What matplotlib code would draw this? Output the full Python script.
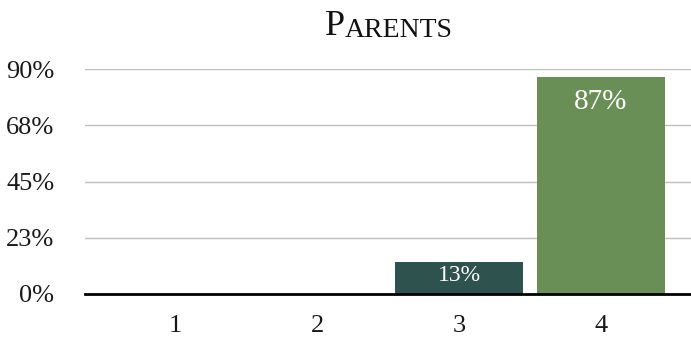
import matplotlib.pyplot as plt

categories = ["1", "2", "3", "4"]
values = [0, 0, 13, 87]
bar_colors = ["#2E524E", "#2E524E", "#2E524E", "#6A8F56"]
y_ticks = [0, 22.5, 45, 67.5, 90]
y_tick_labels = ["0%", "23%", "45%", "68%", "90%"]

plt.rcParams['font.family'] = ['Liberation Serif', 'DejaVu Serif']

fig = plt.figure(figsize=(6.91, 3.41), dpi=100)
ax = fig.add_axes([85 / 691, 47 / 341, 606 / 691, 225 / 341])

x = list(range(1, len(categories) + 1))
bars = ax.bar(x, values, width=0.9, color=bar_colors, zorder=3)

# value labels inside the non-zero bars
for xi, v, b in zip(x, values, bars):
    if v <= 0:
        continue
    size = 21 if v > 50 else 17
    off = 5 if v > 50 else 1.5
    ax.text(xi, v - off, f"{v}%", ha="center", va="top", color="white",
            fontsize=size, zorder=4)

ax.set_xlim(1 - 90 / 142, 4 + 90 / 142)
ax.set_ylim(0, 90)
ax.set_xticks(x)
ax.set_xticklabels(categories, fontsize=19, color="#1a1a1a")
ax.set_yticks(y_ticks)
ax.set_yticklabels(y_tick_labels, fontsize=19, color="#1a1a1a")
ax.tick_params(length=0)
ax.tick_params(axis="y", pad=22)
ax.tick_params(axis="x", pad=15)

ax.grid(axis="y", color="#BFBFBF", linewidth=1, zorder=0)
for s in ["top", "right", "left"]:
    ax.spines[s].set_visible(False)
ax.spines["bottom"].set_color("black")
ax.spines["bottom"].set_linewidth(2)
ax.spines["bottom"].set_zorder(5)

# small-caps title built from two pieces
t1 = fig.text(325 / 691, 1 - 35 / 341, "P", fontsize=26, color="#111111",
              ha="left", va="baseline")
fig.canvas.draw()
ax.annotate("ARENTS", xy=(1, 0), xycoords=t1, fontsize=20, color="#111111",
            ha="left", va="bottom", annotation_clip=False)

fig.savefig("out.png", dpi=100)
